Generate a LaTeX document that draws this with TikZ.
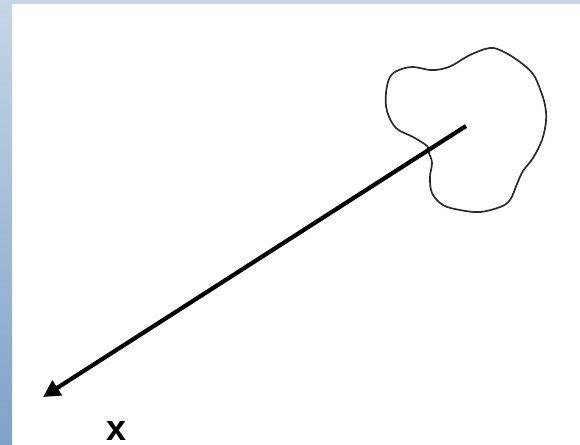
\documentclass[tikz,border=0pt]{standalone}
\usepackage{fontspec}
\setmainfont{Liberation Sans}
\usetikzlibrary{arrows.meta}
\definecolor{stripblue}{HTML}{C5D6E6}
\definecolor{stripdark}{HTML}{7FA2C9}
\definecolor{blobline}{HTML}{2A2A2A}
\tikzset{
  blob/.style={draw=blobline, line width=1.7pt},
  vec/.style={line width=4.2pt, -{Triangle[length=17pt,width=17pt]}},
  lbl/.style={inner sep=0pt, font=\bfseries\fontsize{36}{40}\selectfont}
}
\begin{document}
\begin{tikzpicture}[x=1pt,y=-1pt]
  \useasboundingbox (0,0) rectangle (580,444);
  \shade[top color=stripblue, bottom color=stripdark] (0,0) rectangle (12,444);
  \fill[stripblue] (0,0) rectangle (580,4);

  \coordinate (P) at (466,126);
  \coordinate (T) at (43,397);

  % closed outline of the region
  \draw[blob] plot[smooth cycle, tension=0.6] coordinates {
    (427,146) (413,137) (396,128) (387,111) (386,93) (390,77)
    (399,70) (413,67) (430,70) (442,69) (453,65) (470,55)
    (490,48) (504,52) (520,62) (533,74) (540,89) (545,105)
    (546,121) (542,140) (533,158) (523,171) (517,184) (510,200)
    (500,207) (480,212) (460,210) (443,205) (432,193) (430,177)
    (432,163) (429,153)};

  \draw[vec] (P) -- (T);
  \node[lbl] (X) at (117,431) {x};
\end{tikzpicture}
\end{document}
